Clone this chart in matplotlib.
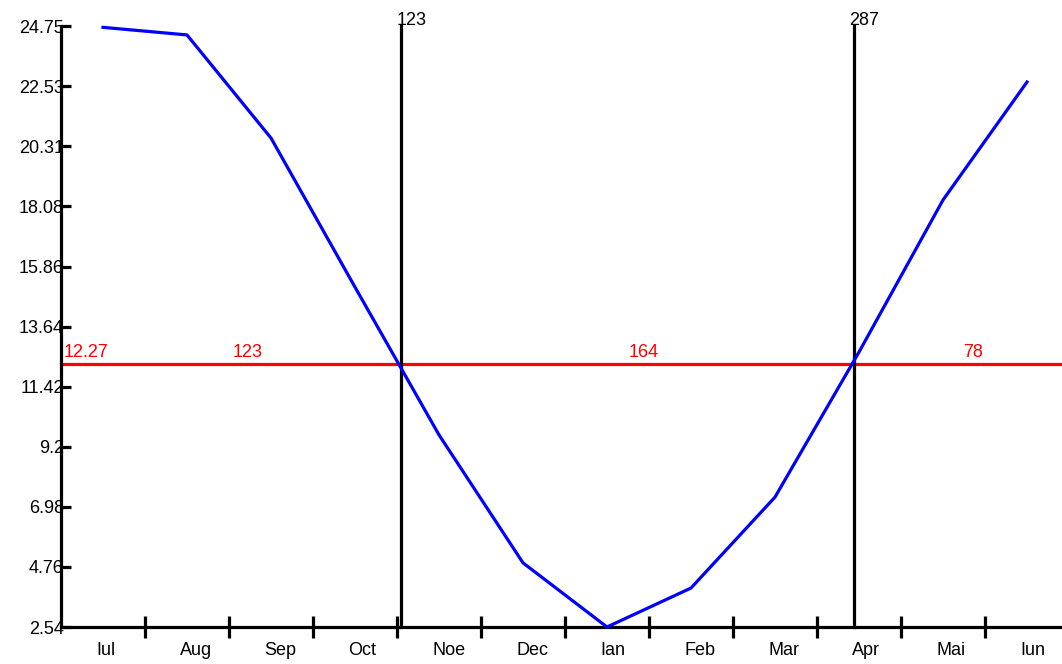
import matplotlib
matplotlib.use("Agg")
import matplotlib.pyplot as plt
import numpy as np

months = ["Iul", "Aug", "Sep", "Oct", "Noe", "Dec", "Ian", "Feb", "Mar", "Apr", "Mai", "Iun"]
values = [24.70, 24.42, 20.61, 15.10, 9.64, 4.91, 2.54, 3.98, 7.34, 12.70, 18.32, 22.68]
yticks = [2.54, 4.76, 6.98, 9.2, 11.42, 13.64, 15.86, 18.08, 20.31, 22.53, 24.75]
threshold = 12.27
cross_days = [123, 287]
durations = [123, 164, 78]
year_days = 365

plt.rcParams['font.family'] = ['Liberation Sans', 'DejaVu Sans']
FS = 13

fig = plt.figure(figsize=(10.62, 6.64), dpi=100)
W, H = 1062, 664
x0, x1 = 61, 1069
y0, y1 = 627, 26
ax = fig.add_axes([x0 / W, (H - y0) / H, (x1 - x0) / W, (y0 - y1) / H])
ax.set_xlim(0, year_days)
ax.set_ylim(yticks[0], yticks[-1])

mw = year_days / len(months)
xs = [(i + 0.5) * mw for i in range(len(months))]

# red threshold line
ax.axhline(threshold, color='#ff0000', lw=2.3, zorder=2, clip_on=False)
# vertical crossing lines
for d in cross_days:
    ax.plot([d, d], [yticks[0], yticks[-1]], color='black', lw=2.3, zorder=3, clip_on=False)
    ax.text(d - 1.5, yticks[-1] - 0.12, str(d), ha='left', va='bottom', fontsize=FS, color='black')

# main line
ax.plot(xs, values, color='#0000ff', lw=2.3, zorder=4, clip_on=False)

# red labels
ax.text(0.8, threshold + 0.1, f"{threshold:.2f}", color='#ff0000', fontsize=FS, ha='left', va='bottom')
bounds = [0] + cross_days + [year_days]
for i, dur in enumerate(durations):
    mid = (bounds[i] + bounds[i + 1]) / 2
    ax.text(mid + 0.5, threshold + 0.1, str(dur), color='#ff0000', fontsize=FS, ha='left', va='bottom')

# spines
for s in ['top', 'right']:
    ax.spines[s].set_visible(False)
for s in ['left', 'bottom']:
    ax.spines[s].set_linewidth(2.3)
    ax.spines[s].set_color('black')

# y ticks
ax.set_yticks(yticks)
ax.set_yticklabels([str(v) for v in yticks], fontsize=FS)
ax.tick_params(axis='y', direction='in', length=7, width=2.3, pad=-2)
for lab in ax.get_yticklabels():
    lab.set_horizontalalignment('right')

# x ticks: month boundaries
ax.set_xticks([(i + 1) * mw for i in range(len(months))])
ax.set_xticklabels([])
ax.tick_params(axis='x', direction='inout', length=16, width=2.3)
for i, m in enumerate(months):
    ax.text(i * mw + 12.7, yticks[0] - 0.55, m, ha='left', va='top', fontsize=FS)

fig.savefig("out.png", dpi=100)
